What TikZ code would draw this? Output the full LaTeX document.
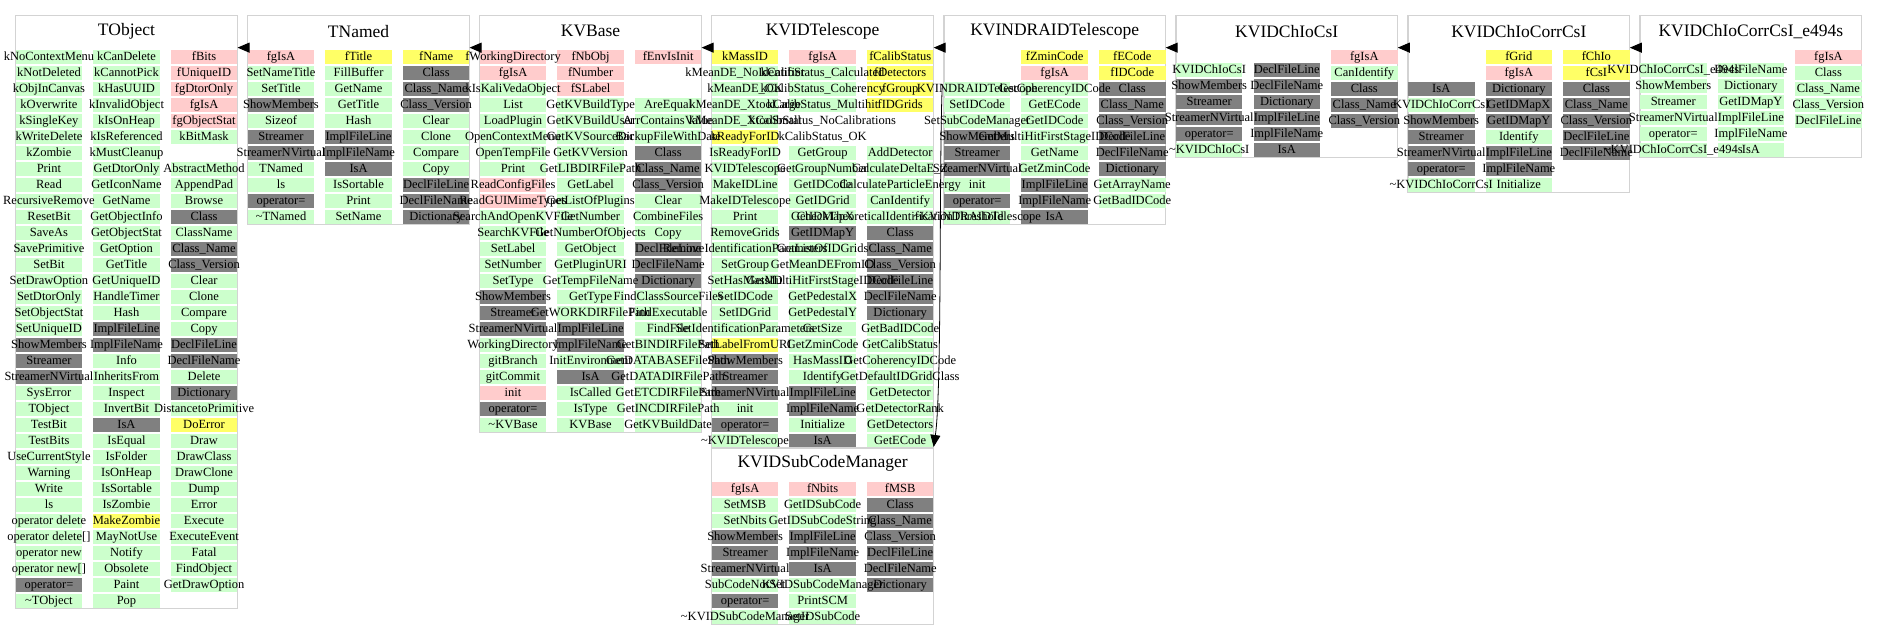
\documentclass[tikz,border=0pt]{standalone}
\usepackage{fontspec}
\setmainfont{Liberation Serif}
\usepackage{tikz}
\usetikzlibrary{arrows.meta}
\definecolor{cgreen}{RGB}{204,255,204}
\definecolor{cpink}{RGB}{255,204,204}
\definecolor{cyellow}{RGB}{255,255,102}
\definecolor{cgrey}{RGB}{128,128,128}
\definecolor{boxgrey}{RGB}{211,211,211}
\pgfdeclarelayer{cellbg}
\pgfsetlayers{cellbg,main}
\tikzset{
  cg/.style={fill=cgreen}, cr/.style={fill=cpink}, cy/.style={fill=cyellow},
  ck/.style={fill=cgrey}, cw/.style={},
  celltext/.style={inner sep=0pt,text height=9pt,text depth=1.5pt,font=\fontsize{12.5}{14}\selectfont},
  boxtitle/.style={inner sep=0pt,minimum width=221.6pt,minimum height=32.3pt,font=\fontsize{17.5}{20}\selectfont},
  boxline/.style={draw=boxgrey,line width=1.2pt},
  inh/.style={line width=1pt,-{Triangle[length=12pt,width=10pt]}}}
\newcommand{\dtor}{\textasciitilde}
\newcommand{\cbox}[5]{%
  \edef\cK{#1}\edef\cL{#3}\edef\cT{#4}\def\cS{0}%
  \begin{pgfonlayer}{cellbg}
    \draw[boxline] (#3,#4) rectangle ({#3+221.6},{#4+32.6+16*#5});
  \end{pgfonlayer}
  \node[boxtitle] (#1) at ({#3+110.8},{#4+15.6}) {#2};}
\newcommand{\cshift}[1]{\def\cS{#1}}
\newcommand{\cfill}[3]{%
  \path[c#3] ({\cL+(#1-1)*77.55},{\cT+34.3+(#2-1)*16+\cS}) rectangle ++(66.5,14.3);}
\newcommand{\ctext}[3]{%
  \node[celltext] (\cK-#1-#2) at ({\cL+(#1-1)*77.55+33.25},{\cT+41.45+(#2-1)*16+\cS}) {#3};}
\newcommand{\ccol}[3]{%
  \begin{pgfonlayer}{cellbg}
    \foreach[count=\ci from #2] \cst/\ctx in {#3}{%
      \edef\cdo{\noexpand\cfill{#1}{\ci}{\cst}}\cdo}
  \end{pgfonlayer}
  \foreach[count=\ci from #2] \cst/\ctx in {#3}{%
    \edef\cdo{\noexpand\ctext{#1}{\ci}}\cdo{\ctx}}}

\begin{document}
\begin{tikzpicture}[x=1pt,y=-1pt]
  \useasboundingbox (0,0) rectangle (1877,640);
  \cbox{TObject}{TObject}{15.7}{15.7}{35}
  \ccol{1}{1}{g/kNoContextMenu,g/kNotDeleted,g/kObjInCanvas,g/kOverwrite,g/kSingleKey,
    g/kWriteDelete,g/kZombie,g/Print,g/Read,g/RecursiveRemove,g/ResetBit,g/SaveAs,
    g/SavePrimitive,g/SetBit,g/SetDrawOption,g/SetDtorOnly,g/SetObjectStat,g/SetUniqueID,
    k/ShowMembers,k/Streamer,k/StreamerNVirtual,g/SysError,g/TObject,g/TestBit,g/TestBits,
    g/UseCurrentStyle,g/Warning,g/Write,g/ls,g/operator delete,g/operator delete[],
    g/operator new,g/operator new[],k/operator=,g/\dtor TObject}
  \ccol{2}{1}{g/kCanDelete,g/kCannotPick,g/kHasUUID,g/kInvalidObject,g/kIsOnHeap,
    g/kIsReferenced,g/kMustCleanup,g/GetDtorOnly,g/GetIconName,g/GetName,g/GetObjectInfo,
    g/GetObjectStat,g/GetOption,g/GetTitle,g/GetUniqueID,g/HandleTimer,g/Hash,
    k/ImplFileLine,k/ImplFileName,g/Info,g/InheritsFrom,g/Inspect,g/InvertBit,k/IsA,
    g/IsEqual,g/IsFolder,g/IsOnHeap,g/IsSortable,g/IsZombie,y/MakeZombie,g/MayNotUse,
    g/Notify,g/Obsolete,g/Paint,g/Pop}
  \ccol{3}{1}{r/fBits,r/fUniqueID,r/fgDtorOnly,r/fgIsA,r/fgObjectStat,g/kBitMask}
  \ccol{3}{8}{g/AbstractMethod,g/AppendPad,g/Browse,k/Class,g/ClassName,k/Class\_Name,
    k/Class\_Version,g/Clear,g/Clone,g/Compare,g/Copy,k/DeclFileLine,k/DeclFileName,
    g/Delete,k/Dictionary,g/DistancetoPrimitive,y/DoError,g/Draw,g/DrawClass,g/DrawClone,
    g/Dump,g/Error,g/Execute,g/ExecuteEvent,g/Fatal,g/FindObject,g/GetDrawOption}

  \cbox{TNamed}{TNamed}{247.75}{15.7}{11}
  \ccol{1}{1}{r/fgIsA,g/SetNameTitle,g/SetTitle,k/ShowMembers,g/Sizeof,k/Streamer,
    k/StreamerNVirtual,g/TNamed,g/ls,k/operator=,g/\dtor TNamed}
  \ccol{2}{1}{y/fTitle,g/FillBuffer,g/GetName,g/GetTitle,g/Hash,k/ImplFileLine,
    k/ImplFileName,k/IsA,g/IsSortable,g/Print,g/SetName}
  \ccol{3}{1}{y/fName,k/Class,k/Class\_Name,k/Class\_Version,g/Clear,g/Clone,g/Compare,
    g/Copy,k/DeclFileLine,k/DeclFileName,k/Dictionary}

  \cbox{KVBase}{KVBase}{479.8}{15.7}{24}
  \ccol{1}{1}{r/fWorkingDirectory,r/fgIsA,g/kIsKaliVedaObject,g/List,g/LoadPlugin,
    g/OpenContextMenu,g/OpenTempFile,g/Print,r/ReadConfigFiles,r/ReadGUIMimeTypes,
    g/SearchAndOpenKVFile,g/SearchKVFile,g/SetLabel,g/SetNumber,g/SetType,k/ShowMembers,
    k/Streamer,k/StreamerNVirtual,g/WorkingDirectory,g/gitBranch,g/gitCommit,r/init,
    k/operator=,g/\dtor KVBase}
  \ccol{2}{1}{r/fNbObj,r/fNumber,r/fSLabel,g/GetKVBuildType,g/GetKVBuildUser,
    g/GetKVSourceDir,g/GetKVVersion,g/GetLIBDIRFilePath,g/GetLabel,g/GetListOfPlugins,
    g/GetNumber,g/GetNumberOfObjects,g/GetObject,g/GetPluginURI,g/GetTempFileName,
    g/GetType,g/GetWORKDIRFilePath,k/ImplFileLine,k/ImplFileName,g/InitEnvironment,k/IsA,
    g/IsCalled,g/IsType,g/KVBase}
  \ccol{3}{1}{r/fEnvIsInit}
  \ccol{3}{4}{g/AreEqual,g/ArrContainsValue,g/BackupFileWithDate,k/Class,k/Class\_Name,
    k/Class\_Version,g/Clear,g/CombineFiles,g/Copy,k/DeclFileLine,k/DeclFileName,
    k/Dictionary,g/FindClassSourceFiles,g/FindExecutable,g/FindFile,g/GetBINDIRFilePath,
    g/GetDATABASEFilePath,g/GetDATADIRFilePath,g/GetETCDIRFilePath,g/GetINCDIRFilePath,
    g/GetKVBuildDate}

  \cbox{KVIDTelescope}{KVIDTelescope}{711.85}{15.7}{25}
  \ccol{1}{1}{y/kMassID,g/kMeanDE\_NoIdentifier,g/kMeanDE\_OK,g/kMeanDE\_XtooLarge,
    g/kMeanDE\_XtooSmall,y/kReadyForID,g/IsReadyForID,g/KVIDTelescope,g/MakeIDLine,
    g/MakeIDTelescope,g/Print,g/RemoveGrids,g/RemoveIdentificationParameters,g/SetGroup,
    g/SetHasMassID,g/SetIDCode,g/SetIDGrid,g/SetIdentificationParameters,
    y/SetLabelFromURI,k/ShowMembers,k/Streamer,k/StreamerNVirtual,g/init,k/operator=,
    g/\dtor KVIDTelescope}
  \ccol{2}{1}{r/fgIsA,g/kCalibStatus\_Calculated,g/kCalibStatus\_Coherency,
    g/kCalibStatus\_Multihit,w/kCalibStatus\_NoCalibrations,w/kCalibStatus\_OK,
    g/GetGroup,g/GetGroupNumber,g/GetIDCode,g/GetIDGrid,g/GetIDMapX,k/GetIDMapY,
    g/GetListOfIDGrids,g/GetMeanDEFromID,g/GetMultiHitFirstStageIDCode,g/GetPedestalX,
    g/GetPedestalY,g/GetSize,g/GetZminCode,g/HasMassID,g/Identify,k/ImplFileLine,
    k/ImplFileName,g/Initialize,k/IsA}
  \ccol{3}{1}{y/fCalibStatus,y/fDetectors,y/fGroup,y/fIDGrids}
  \ccol{3}{7}{g/AddDetector,g/CalculateDeltaE\_Z,g/CalculateParticleEnergy,
    g/CanIdentify,g/CheckTheoreticalIdentificationThreshold,k/Class,k/Class\_Name,
    k/Class\_Version,k/DeclFileLine,k/DeclFileName,k/Dictionary,g/GetBadIDCode,
    g/GetCalibStatus,g/GetCoherencyIDCode,g/GetDefaultIDGridClass,g/GetDetector,
    g/GetDetectorRank,g/GetDetectors,g/GetECode}

  \cbox{KVINDRAIDTelescope}{KVINDRAIDTelescope}{943.9}{15.7}{11}
  \ccol{1}{3}{g/KVINDRAIDTelescope,g/SetIDCode,g/SetSubCodeManager,k/ShowMembers,
    k/Streamer,k/StreamerNVirtual,g/init,k/operator=,g/\dtor KVINDRAIDTelescope}
  \ccol{2}{1}{y/fZminCode,r/fgIsA,g/GetCoherencyIDCode,g/GetECode,g/GetIDCode,
    g/GetMultiHitFirstStageIDCode,g/GetName,g/GetZminCode,k/ImplFileLine,
    k/ImplFileName,k/IsA}
  \ccol{3}{1}{y/fECode,y/fIDCode,k/Class,k/Class\_Name,k/Class\_Version,k/DeclFileLine,
    k/DeclFileName,k/Dictionary,g/GetArrayName,g/GetBadIDCode}

  \cbox{KVIDChIoCsI}{KVIDChIoCsI}{1175.95}{15.7}{6.8125}
  \cshift{13}
  \ccol{1}{1}{g/KVIDChIoCsI,k/ShowMembers,k/Streamer,k/StreamerNVirtual,k/operator=,
    g/\dtor KVIDChIoCsI}
  \ccol{2}{1}{k/DeclFileLine,k/DeclFileName,k/Dictionary,k/ImplFileLine,
    k/ImplFileName,k/IsA}
  \cshift{0}
  \ccol{3}{1}{r/fgIsA,g/CanIdentify,k/Class,k/Class\_Name,k/Class\_Version}

  \cbox{KVIDChIoCorrCsI}{KVIDChIoCorrCsI}{1408}{15.7}{9}
  \ccol{1}{3}{k/IsA,g/KVIDChIoCorrCsI,k/ShowMembers,k/Streamer,k/StreamerNVirtual,
    k/operator=,g/\dtor KVIDChIoCorrCsI}
  \ccol{2}{1}{y/fGrid,r/fgIsA,k/Dictionary,k/GetIDMapX,k/GetIDMapY,g/Identify,
    k/ImplFileLine,k/ImplFileName,g/Initialize}
  \ccol{3}{1}{y/fChIo,y/fCsI,k/Class,k/Class\_Name,k/Class\_Version,k/DeclFileLine,
    k/DeclFileName}

  \cbox{KVIDChIoCorrCsIe494s}{KVIDChIoCorrCsI\_e494s}{1640.05}{15.7}{6.8125}
  \cshift{13}
  \ccol{1}{1}{g/KVIDChIoCorrCsI\_e494s,g/ShowMembers,g/Streamer,g/StreamerNVirtual,
    g/operator=,g/\dtor KVIDChIoCorrCsI\_e494s}
  \ccol{2}{1}{g/DeclFileName,g/Dictionary,g/GetIDMapY,g/ImplFileLine,g/ImplFileName,g/IsA}
  \cshift{0}
  \ccol{3}{1}{r/fgIsA,g/Class,g/Class\_Name,g/Class\_Version,g/DeclFileLine}

  \cbox{KVIDSubCodeManager}{KVIDSubCodeManager}{711.85}{447.7}{9}
  \ccol{1}{1}{r/fgIsA,g/SetMSB,g/SetNbits,k/ShowMembers,k/Streamer,k/StreamerNVirtual,
    g/SubCodeNotSet,k/operator=,g/\dtor KVIDSubCodeManager}
  \ccol{2}{1}{r/fNbits,g/GetIDSubCode,g/GetIDSubCodeString,k/ImplFileLine,
    k/ImplFileName,k/IsA,g/KVIDSubCodeManager,g/PrintSCM,g/SetIDSubCode}
  \ccol{3}{1}{r/fMSB,k/Class,k/Class\_Name,k/Class\_Version,k/DeclFileLine,
    k/DeclFileName,k/Dictionary}

  \coordinate (subsrc) at (942.3,84);
  \draw[inh] (TNamed.south west) -- (TObject.south east);
  \draw[inh] (KVBase.south west) -- (TNamed.south east);
  \draw[inh] (KVIDTelescope.south west) -- (KVBase.south east);
  \draw[inh] (KVINDRAIDTelescope.south west) -- (KVIDTelescope.south east);
  \draw[inh] (KVIDChIoCsI.south west) -- (KVINDRAIDTelescope.south east);
  \draw[inh] (KVIDChIoCorrCsI.south west) -- (KVIDChIoCsI.south east);
  \draw[inh] (KVIDChIoCorrCsIe494s.south west) -- (KVIDChIoCorrCsI.south east);
  \draw[inh,line width=0.8pt] (subsrc) .. controls (939,160) and (942,390)
    .. (KVIDSubCodeManager.north east);
\end{tikzpicture}
\end{document}
